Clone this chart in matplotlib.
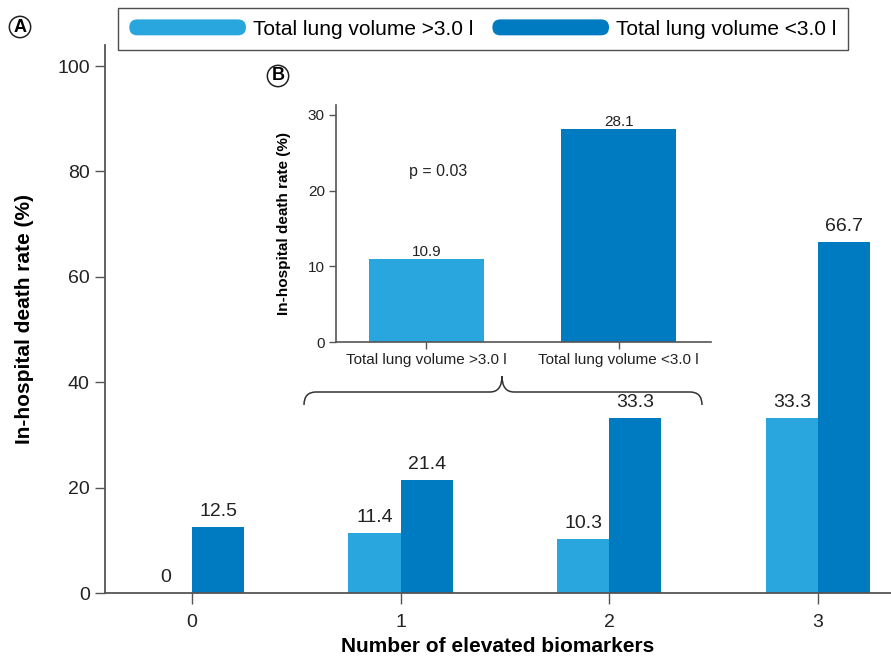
import matplotlib.pyplot as plt
from matplotlib.patches import Patch, PathPatch, FancyBboxPatch
from matplotlib.legend_handler import HandlerPatch
from matplotlib.path import Path
import numpy as np

plt.rcParams['font.family'] = ['Liberation Sans', 'DejaVu Sans']

# Data
biomarkers = [0, 1, 2, 3]
rate_high_vol = [0, 11.4, 10.3, 33.3]    # Total lung volume >3.0 l
rate_low_vol = [12.5, 21.4, 33.3, 66.7]  # Total lung volume <3.0 l
inset_groups = ["Total lung volume >3.0 l", "Total lung volume <3.0 l"]
inset_rates = [10.9, 28.1]
p_text = "p = 0.03"

light = '#29A6DE'
dark = '#007AC1'
spine_col = '#555555'
txt_col = '#222222'


class RoundHandler(HandlerPatch):
    # rounded bar used as legend key
    def create_artists(self, legend, orig_handle, xdescent, ydescent,
                       width, height, fontsize, trans):
        p = FancyBboxPatch((-xdescent, -ydescent), width, height,
                           boxstyle=f"round,pad=0,rounding_size={height/2}",
                           fc=orig_handle.get_facecolor(), ec='none')
        p.set_transform(trans)
        return [p]


fig = plt.figure(figsize=(8.91, 6.58), dpi=100)

# Main panel
ax = fig.add_axes([105/891, 65/658, 1 - 105/891, (593-45)/658])
x = np.array(biomarkers)
w = 0.25
ax.bar(x - w/2, rate_high_vol, w, color=light)
ax.bar(x + w/2, rate_low_vol, w, color=dark)
for xi, v in zip(x, rate_high_vol):
    ax.annotate(f"{v:g}", (xi - w/2, v), xytext=(0, 5), textcoords='offset points',
                ha='center', va='bottom', fontsize=14, color=txt_col)
for xi, v in zip(x, rate_low_vol):
    ax.annotate(f"{v:g}", (xi + w/2, v), xytext=(0, 5), textcoords='offset points',
                ha='center', va='bottom', fontsize=14, color=txt_col)

ax.set_xlim(-0.417, 3.35)
ax.set_ylim(0, 104)
ax.set_yticks([0, 20, 40, 60, 80, 100])
ax.set_xticks(biomarkers)
ax.tick_params(labelsize=14, colors=txt_col, length=7, width=1, pad=4)
ax.tick_params(axis='x', length=8, pad=7)
ax.tick_params(axis='both', color=spine_col)
for s in ['top', 'right']:
    ax.spines[s].set_visible(False)
for s in ['left', 'bottom']:
    ax.spines[s].set_color(spine_col)
    ax.spines[s].set_linewidth(1.3)
ax.set_ylabel("In-hospital death rate (%)", fontsize=15, fontweight='bold')
ax.set_xlabel("Number of elevated biomarkers", fontsize=15, fontweight='bold')
ax.yaxis.set_label_coords(-0.09, 0.5)
ax.xaxis.set_label_coords(0.5, -0.08)

# Inset panel
ax2 = fig.add_axes([336/891, (658-342)/658, (711-336)/891, (342-105)/658])
xi2 = np.arange(len(inset_groups))
ax2.bar(xi2, inset_rates, 0.6, color=[light, dark])
for xx, v in zip(xi2, inset_rates):
    ax2.annotate(f"{v:g}", (xx, v), xytext=(0, 0.5), textcoords='offset points',
                 ha='center', va='bottom', fontsize=11, color=txt_col)
ax2.text(0.06, 22.5, p_text, ha='center', va='center', fontsize=11.5, color=txt_col)
ax2.set_xlim(-0.47, 1.48)
ax2.set_ylim(0, 31.3)
ax2.set_yticks([0, 10, 20, 30])
ax2.set_xticks(xi2)
ax2.set_xticklabels(inset_groups)
ax2.tick_params(labelsize=11, colors=txt_col, length=5, width=1, pad=3)
ax2.tick_params(axis='both', color=spine_col)
for s in ['top', 'right']:
    ax2.spines[s].set_visible(False)
for s in ['left', 'bottom']:
    ax2.spines[s].set_color(spine_col)
    ax2.spines[s].set_linewidth(1.2)
ax2.set_ylabel("In-hospital death rate (%)", fontsize=11, fontweight='bold', labelpad=12)

# Overlay for brace and panel letters (pixel coordinates)
ov = fig.add_axes([0, 0, 1, 1], facecolor='none')
ov.set_xlim(0, 891)
ov.set_ylim(658, 0)
ov.axis('off')
verts = [(304, 405), (304, 392), (316, 392),
         (490, 392), (502, 392), (502, 376),
         (502, 392), (514, 392),
         (690, 392), (702, 392), (702, 405)]
codes = [Path.MOVETO, Path.CURVE3, Path.CURVE3,
         Path.LINETO, Path.CURVE3, Path.CURVE3,
         Path.CURVE3, Path.CURVE3,
         Path.LINETO, Path.CURVE3, Path.CURVE3]
ov.add_patch(PathPatch(Path(verts, codes), fill=False, edgecolor='#333333', lw=1.1))

circ = dict(boxstyle='circle,pad=0.12', fc='white', ec=txt_col, lw=1.1)
ov.text(20, 27, "A", ha='center', va='center', fontsize=13, fontweight='bold', bbox=circ)
ov.text(278, 76, "B", ha='center', va='center', fontsize=13, fontweight='bold', bbox=circ)

# Legend
handles = [Patch(fc=light), Patch(fc=dark)]
leg = fig.legend(handles, ["Total lung volume >3.0 l", "Total lung volume <3.0 l"],
                 loc='center', bbox_to_anchor=(483/891, 1 - 29/658), ncol=2,
                 fontsize=15, frameon=True, fancybox=False,
                 handlelength=5.6, handleheight=0.8, handletextpad=0.35,
                 columnspacing=0.9, borderpad=0.55,
                 handler_map={Patch: RoundHandler()})
leg.get_frame().set_edgecolor(txt_col)
leg.get_frame().set_linewidth(1.0)

fig.savefig("out.png", dpi=100)
